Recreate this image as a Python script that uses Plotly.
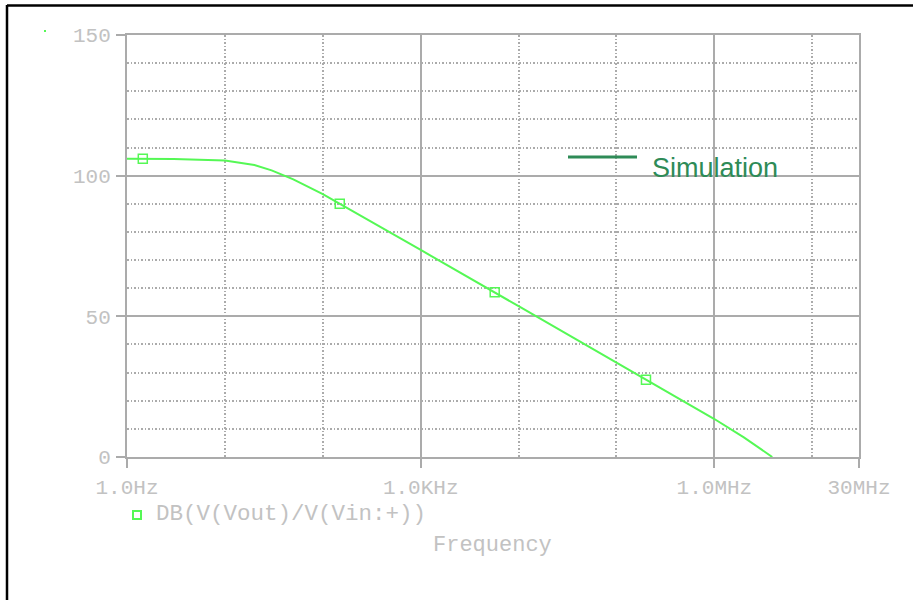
import plotly.graph_objects as go

# Curve (frequency in Hz, gain in dB)
freq_hz = [1, 3, 10, 20, 30, 50, 100, 200, 500, 1e3, 1e4, 1e5, 1e6, 2e6, 3e6, 3.9e6]
gain_db = [106.0, 105.9, 105.4, 103.8, 101.9, 98.7, 93.4, 87.5, 79.6, 73.6, 53.6, 33.6, 13.5, 7.0, 2.7, 0.0]

# Marker positions along the trace
marker_freq = [1.45, 149, 5700, 2.0e5]
marker_db = [106.0, 90.0, 58.6, 27.5]

x_tickvals = [1, 1e3, 1e6, 3e7]
x_ticktext = ["1.0Hz", "1.0KHz", "1.0MHz", "30MHz"]
x_minor = [10, 100, 1e4, 1e5, 1e7]
y_tickvals = [0, 50, 100, 150]

trace_name = "DB(V(Vout)/V(Vin:+))"
legend_label = "Simulation"

GREEN = "#55F855"
GRID = "#ababab"
TXT = "#c2c2c2"
MONO = "Courier New, Liberation Mono, monospace"

W, H = 913, 600
L, R, T, B = 127, 54, 35, 143
pw, ph = W - L - R, H - T - B

def px(x):
    return (x - L) / pw

def py(y):
    return (H - B - y) / ph

fig = go.Figure()
fig.add_trace(go.Scatter(x=freq_hz, y=gain_db, mode="lines",
                         line=dict(color=GREEN, width=2), showlegend=False,
                         name=trace_name))
fig.add_trace(go.Scatter(x=marker_freq, y=marker_db, mode="markers",
                         marker=dict(symbol="square-open", size=9, color=GREEN,
                                     line=dict(width=1.5, color=GREEN)),
                         showlegend=False, name=trace_name))

fig.update_layout(
    width=W, height=H, margin=dict(l=L, r=R, t=T, b=B),
    paper_bgcolor="white", plot_bgcolor="white", showlegend=False,
    xaxis=dict(type="log", range=[0, 7.4771], tickmode="array",
               tickvals=x_tickvals, ticktext=x_ticktext,
               showgrid=True, gridcolor=GRID, gridwidth=2,
               showline=True, linecolor=GRID, linewidth=2, mirror=True,
               ticks="outside", ticklen=9, tickwidth=2, tickcolor=GRID,
               ticklabelstandoff=1,
               tickfont=dict(family=MONO, size=21, color=TXT),
               zeroline=False,
               minor=dict(tickmode="array", tickvals=x_minor, showgrid=True,
                          gridcolor=GRID, gridwidth=2, griddash="1.5px,2px",
                          ticks="")),
    yaxis=dict(range=[0, 150], tickmode="array", tickvals=y_tickvals,
               showgrid=True, gridcolor=GRID, gridwidth=2,
               showline=True, linecolor=GRID, linewidth=2, mirror=True,
               ticks="outside", ticklen=9, tickwidth=2, tickcolor=GRID,
               ticklabelstandoff=1,
               tickfont=dict(family=MONO, size=21, color=TXT),
               zeroline=False,
               minor=dict(dtick=10, showgrid=True, gridcolor=GRID, gridwidth=2,
                          griddash="1.5px,2px", ticks="")),
)

shapes = [
    # outer frame (left and top visible)
    dict(type="line", xref="paper", yref="paper", x0=px(7), x1=px(913), y0=py(5.5), y1=py(5.5),
         line=dict(color="black", width=2.5)),
    dict(type="line", xref="paper", yref="paper", x0=px(7), x1=px(7), y0=py(5), y1=py(600),
         line=dict(color="black", width=2.5)),
    # small green dot
    dict(type="rect", xref="paper", yref="paper", x0=px(44), x1=px(46), y0=py(30), y1=py(32),
         line=dict(width=0), fillcolor=GREEN),
    # trace legend marker
    dict(type="rect", xref="paper", yref="paper", x0=px(133), x1=px(141), y0=py(511), y1=py(519),
         line=dict(color=GREEN, width=2), fillcolor="rgba(0,0,0,0)"),
    # "Simulation" legend line
    dict(type="line", xref="paper", yref="paper", x0=px(568), x1=px(637), y0=py(157), y1=py(157),
         line=dict(color="#2e8b57", width=3)),
]
fig.update_layout(shapes=shapes)

fig.add_annotation(xref="paper", yref="paper", x=px(154), y=py(514), xanchor="left", yanchor="middle",
                   text=trace_name, showarrow=False, font=dict(family=MONO, size=22.5, color=TXT))
fig.add_annotation(xref="paper", yref="paper", x=px(492), y=py(545), xanchor="center", yanchor="middle",
                   text="Frequency", showarrow=False, font=dict(family=MONO, size=22, color=TXT))
fig.add_annotation(xref="paper", yref="paper", x=px(650), y=py(168), xanchor="left", yanchor="middle",
                   text=legend_label, showarrow=False,
                   font=dict(family="Liberation Sans, Arial, sans-serif", size=27, color="#2e8b57"))

fig.write_html("out.html", config={"displayModeBar": False},
               post_script="document.body.style.margin='0';")
